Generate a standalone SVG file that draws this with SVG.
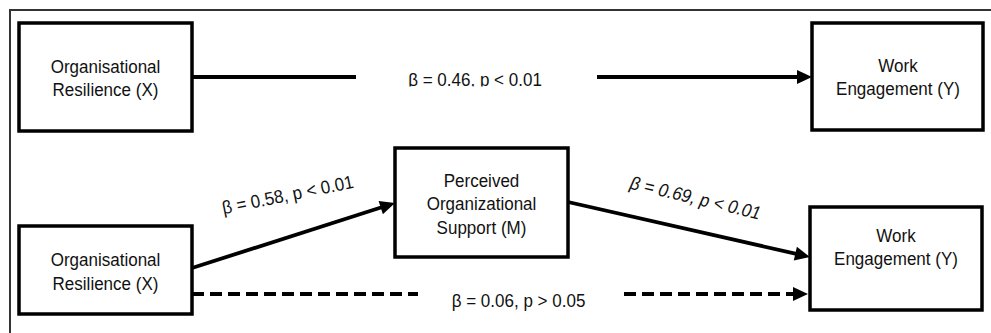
<svg xmlns="http://www.w3.org/2000/svg" width="991" height="333" viewBox="0 0 991 333">
<style>
.box{fill:#fff;stroke:#000;stroke-width:3.5}
.t{font-family:"Liberation Sans",Arial,sans-serif;font-size:18.5px;fill:#111;text-anchor:middle}
.ti{font-style:italic}
.c{fill:none;stroke:#000;stroke-width:3.8}
.d{stroke-dasharray:12 6}
.frame{fill:none;stroke:#333;stroke-width:2}
.bg{fill:#fff;stroke:none}
</style>
<defs>
<marker id="ah" markerUnits="userSpaceOnUse" markerWidth="16" markerHeight="14" refX="1" refY="7" orient="auto" overflow="visible">
<path d="M0,0 L15,7 L0,14 z" fill="#000"/>
</marker>
<clipPath id="clipTop"><rect x="350" y="60" width="260" height="26.5"/></clipPath>
</defs>
<rect width="991" height="333" fill="#fff"/>
<path class="frame" d="M10,333 V10 H991"/>
<g id="connectors">
<line class="c" x1="192" y1="77" x2="798" y2="77" marker-end="url(#ah)"/>
<rect class="bg" x="356" y="62" width="241" height="30"/>
<g clip-path="url(#clipTop)"><text class="t" transform="translate(475,86) scale(0.92,1)">β = 0.46, p &lt; 0.01</text></g>
<line class="c" x1="192" y1="268" x2="381.7" y2="207.3" marker-end="url(#ah)"/>
<text class="t" transform="translate(289,201) rotate(-11.5) scale(0.92,1)">β = 0.58, p &lt; 0.01</text>
<line class="c" x1="568" y1="202" x2="796.3" y2="253.9" marker-end="url(#ah)"/>
<text class="t ti" transform="translate(694,204) rotate(13.5) scale(0.92,1)">β = 0.69, p &lt; 0.01</text>
<line class="c d" x1="192" y1="294" x2="794" y2="294" marker-end="url(#ah)"/>
<rect class="bg" x="418" y="282" width="200" height="28"/>
<text class="t" transform="translate(518.5,307) scale(0.92,1)">β = 0.06, p &gt; 0.05</text>
</g>
<g id="node-x-top">
<rect class="box" x="19" y="23" width="173" height="108"/>
<g transform="translate(105.5,0) scale(0.92,1)">
<text class="t" x="0" y="73">Organisational</text>
<text class="t" x="0" y="96">Resilience (X)</text>
</g>
</g>
<g id="node-y-top">
<rect class="box" x="812" y="23" width="171" height="107"/>
<g transform="translate(898,0) scale(0.92,1)">
<text class="t" x="0" y="72">Work</text>
<text class="t" x="0" y="95">Engagement (Y)</text>
</g>
</g>
<g id="node-m">
<rect class="box" x="395" y="148" width="173" height="109"/>
<g transform="translate(481.5,0) scale(0.92,1)">
<text class="t" x="0" y="187">Perceived</text>
<text class="t" x="0" y="210">Organizational</text>
<text class="t" x="0" y="234">Support (M)</text>
</g>
</g>
<g id="node-x-bottom">
<rect class="box" x="19" y="226" width="173" height="88"/>
<g transform="translate(105.5,0) scale(0.92,1)">
<text class="t" x="0" y="266">Organisational</text>
<text class="t" x="0" y="290">Resilience (X)</text>
</g>
</g>
<g id="node-y-bottom">
<rect class="box" x="810" y="207" width="172" height="103"/>
<g transform="translate(896,0) scale(0.92,1)">
<text class="t" x="0" y="242">Work</text>
<text class="t" x="0" y="265">Engagement (Y)</text>
</g>
</g>
</svg>
